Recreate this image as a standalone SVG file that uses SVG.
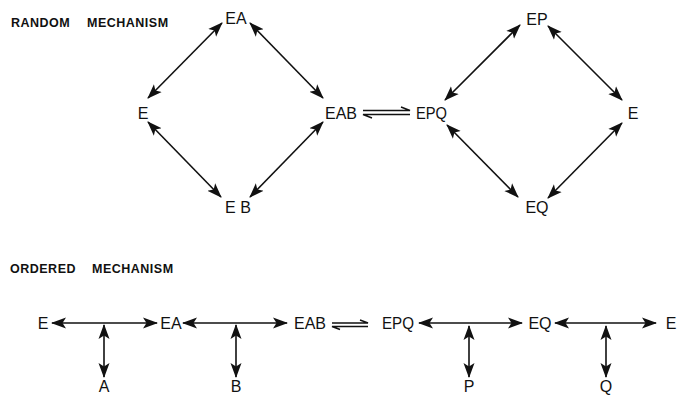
<svg xmlns="http://www.w3.org/2000/svg" width="677" height="396" viewBox="0 0 677 396">
  <style>
    .title { font-family: "Liberation Sans", Arial, sans-serif; font-size: 12.5px; font-weight: bold; letter-spacing: 0.5px; fill: #111; }
    .node { font-family: "Liberation Sans", Arial, sans-serif; font-size: 16px; fill: #111; text-anchor: middle; }
    .narrow { text-anchor: start; }
    .conn { stroke: #111; stroke-width: 1.6; fill: none; }
    .bi { marker-start: url(#head); marker-end: url(#head); }
    .half { stroke: #111; stroke-width: 1.4; fill: none; }
  </style>
  <defs>
    <marker id="head" markerUnits="userSpaceOnUse" markerWidth="16" markerHeight="12" viewBox="0 0 16 12" refX="14" refY="6" orient="auto-start-reverse">
      <path d="M0,0.5 L15,6 L0,11.5 L3.5,6 Z" fill="#111"/>
    </marker>
  </defs>

  <rect width="677" height="396" fill="#fff"/>

  <!-- section titles -->
  <text class="title" x="11" y="27">RANDOM</text>
  <text class="title" x="87" y="27">MECHANISM</text>
  <text class="title" x="10" y="273">ORDERED</text>
  <text class="title" x="92" y="273">MECHANISM</text>

  <!-- random mechanism nodes -->
  <g id="r-E1"><text class="node" x="143" y="119">E</text></g>
  <g id="r-EA"><text class="node" x="236" y="24">EA</text></g>
  <g id="r-EB"><text class="node" x="238" y="213">E B</text></g>
  <g id="r-EAB"><text class="node" x="341" y="119">EAB</text></g>
  <g id="r-EPQ"><text class="node narrow" x="416" y="119" textLength="31" lengthAdjust="spacingAndGlyphs">EPQ</text></g>
  <g id="r-EP"><text class="node" x="537" y="25">EP</text></g>
  <g id="r-EQ"><text class="node" x="537" y="213">EQ</text></g>
  <g id="r-E2"><text class="node" x="633" y="119">E</text></g>

  <!-- ordered mechanism nodes -->
  <g id="o-E1"><text class="node" x="43" y="329">E</text></g>
  <g id="o-EA"><text class="node" x="171" y="329">EA</text></g>
  <g id="o-EAB"><text class="node" x="310" y="329">EAB</text></g>
  <g id="o-EPQ"><text class="node narrow" x="382" y="329" textLength="32" lengthAdjust="spacingAndGlyphs">EPQ</text></g>
  <g id="o-EQ"><text class="node" x="540" y="329">EQ</text></g>
  <g id="o-E2"><text class="node" x="671" y="329">E</text></g>
  <g id="o-A"><text class="node" x="104" y="392">A</text></g>
  <g id="o-B"><text class="node" x="236" y="392">B</text></g>
  <g id="o-P"><text class="node" x="469" y="392">P</text></g>
  <g id="o-Q"><text class="node" x="606" y="392">Q</text></g>

  <g id="connectors">
    <!-- random mechanism: left diamond -->
    <line class="conn bi" x1="148" y1="98" x2="222" y2="23"/>
    <line class="conn bi" x1="250" y1="23" x2="323" y2="98"/>
    <line class="conn bi" x1="148" y1="122" x2="221" y2="197"/>
    <line class="conn bi" x1="250" y1="197" x2="323" y2="122"/>
    <!-- random mechanism: right diamond -->
    <line class="conn bi" x1="445" y1="100" x2="520" y2="25"/>
    <line class="conn bi" x1="548" y1="26" x2="622" y2="100"/>
    <line class="conn bi" x1="447" y1="125" x2="518" y2="197"/>
    <line class="conn bi" x1="548" y1="198" x2="622" y2="123"/>
    <!-- random: EAB / EPQ equilibrium half-arrows -->
    <path class="half" d="M363,110.5 H410 L401,107"/>
    <path class="half" d="M410,114.5 H363 L372,118"/>

    <!-- ordered mechanism: main line -->
    <line class="conn bi" x1="52" y1="323" x2="157" y2="323"/>
    <line class="conn bi" x1="183" y1="323" x2="287" y2="323"/>
    <line class="conn bi" x1="419" y1="323" x2="522" y2="323"/>
    <line class="conn bi" x1="555" y1="323" x2="656" y2="323"/>
    <!-- ordered: EAB / EPQ equilibrium half-arrows -->
    <path class="half" d="M332,323 H368 L360,320"/>
    <path class="half" d="M368,326.5 H332 L340,329.5"/>
    <!-- ordered: substrate / product branches -->
    <line class="conn bi" x1="104" y1="325" x2="104" y2="377"/>
    <line class="conn bi" x1="236" y1="325" x2="236" y2="377"/>
    <line class="conn bi" x1="469" y1="326" x2="469" y2="377"/>
    <line class="conn bi" x1="606" y1="326" x2="606" y2="377"/>
  </g>
</svg>
